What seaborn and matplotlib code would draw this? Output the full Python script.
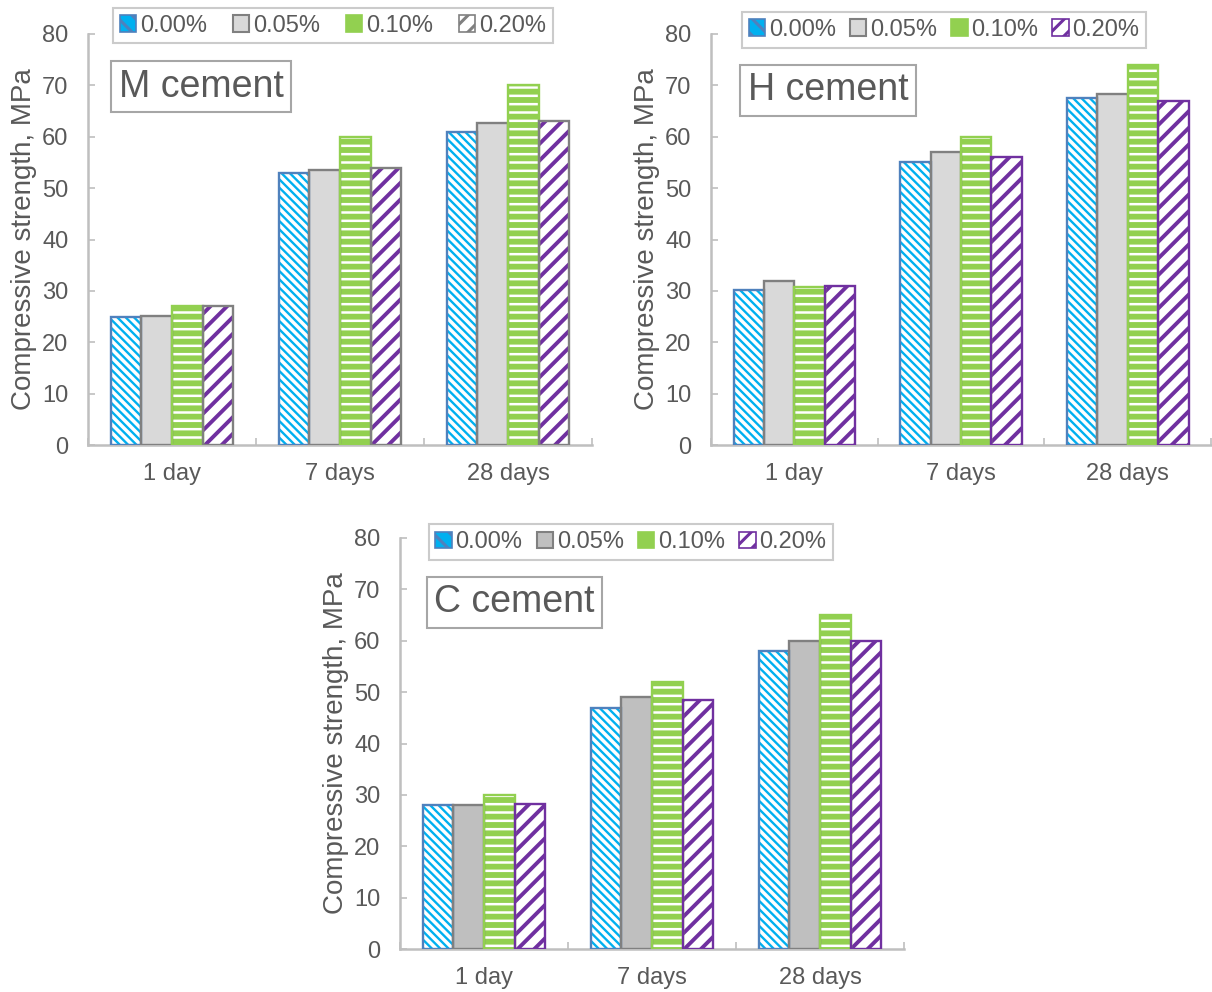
import numpy as np
import pandas as pd
import matplotlib
matplotlib.use("Agg")
import matplotlib.pyplot as plt
from matplotlib.patches import Patch, Rectangle
import seaborn as sns

# ---------------- data ----------------
ages = ["1 day", "7 days", "28 days"]
dosages = ["0.00%", "0.05%", "0.10%", "0.20%"]

m_cement = {"0.00%": [25.0, 53.0, 61.0],
            "0.05%": [25.2, 53.5, 62.7],
            "0.10%": [27.0, 60.0, 70.0],
            "0.20%": [27.0, 54.0, 63.0]}
h_cement = {"0.00%": [30.2, 55.0, 67.6],
            "0.05%": [32.0, 57.0, 68.4],
            "0.10%": [30.7, 60.0, 74.0],
            "0.20%": [31.0, 56.0, 67.0]}
c_cement = {"0.00%": [28.0, 47.0, 58.0],
            "0.05%": [28.0, 49.0, 60.0],
            "0.10%": [30.0, 52.0, 65.0],
            "0.20%": [28.3, 48.5, 60.0]}

titles = ["M cement", "H cement", "C cement"]
yticks = [0, 10, 20, 30, 40, 50, 60, 70, 80]

# ---------------- style ----------------
sns.set_theme(style="white")
plt.rcParams["font.family"] = ["Liberation Sans", "DejaVu Sans"]
plt.rcParams["hatch.linewidth"] = 2.2
TXT = "#595959"
AX = "#BFBFBF"

CYAN, BLUE_EDGE = "#00B0F0", "#4F81BD"
GREEN = "#92D050"
PURPLE = "#7030A0"

W, H = 1212, 992
fig = plt.figure(figsize=(W / 100, H / 100), dpi=100)


def frac(x0, y_top, y_bot, width):
    return [x0 / W, 1 - y_bot / H, width / W, (y_bot - y_top) / H]


axes_pos = [frac(88, 34, 445, 504), frac(711, 34, 445, 500), frac(400, 538, 949, 504)]
datas = [m_cement, h_cement, c_cement]
gray_face = ["#D9D9D9", "#D9D9D9", "#BFBFBF"]
purple_edge = ["#808080", PURPLE, PURPLE]
legend_pos = [(0.486, 1.02), (0.466, 1.01), (0.458, 0.99)]
legend_colsp = [1.1, 0.6, 0.6]
title_pos = [(0.0615, 0.915), (0.073, 0.9075), (0.0675, 0.888)]


for i, (pos, data) in enumerate(zip(axes_pos, datas)):
    ax = fig.add_axes(pos)
    rows = []
    for d in dosages:
        for a, v in zip(ages, data[d]):
            rows.append({"age": a, "dosage": d, "strength": v})
    df = pd.DataFrame(rows)
    sns.barplot(data=df, x="age", y="strength", hue="dosage", order=ages,
                hue_order=dosages, width=0.73, gap=0, legend=False, ax=ax,
                errorbar=None, saturation=1)

    # styles: (face, hatch, hatch colour, outline colour, hatch lw)
    styles = [
        ("white", "\\\\\\\\", CYAN, BLUE_EDGE, 1.7),
        (gray_face[i], "", gray_face[i], "#808080", 1.0),
        (GREEN, "--", "white", GREEN, 1.8),
        ("white", "//", PURPLE, purple_edge[i], 2.8),
    ]
    for cont, (face, hatch, hcol, ecol, hlw) in zip(ax.containers, styles):
        for p in cont.patches:
            # bar from seaborn becomes the outline
            p.set_facecolor("none")
            p.set_edgecolor(ecol)
            p.set_linewidth(1.7)
            p.set_zorder(3)
            with plt.rc_context({"hatch.linewidth": hlw}):
                r = Rectangle((p.get_x(), p.get_y()), p.get_width(), p.get_height(),
                              facecolor=face, edgecolor=hcol, hatch=hatch,
                              linewidth=0, zorder=2)
            if hasattr(r, "set_hatch_linewidth"):
                r.set_hatch_linewidth(hlw)
            ax.add_patch(r)

    ax.set_ylim(0, 80)
    ax.set_xlim(-0.5, 2.5)
    ax.set_yticks(yticks)
    ax.set_xticks(range(3))
    ax.set_xticklabels(ages)
    ax.set_xticks([-0.5, 0.5, 1.5, 2.5], minor=True)
    ax.tick_params(axis="y", which="major", direction="in", length=5, width=1.2,
                   color=AX, labelsize=17, labelcolor=TXT, pad=14, left=True)
    ax.tick_params(axis="x", which="major", length=0, labelsize=17, labelcolor=TXT, pad=13)
    ax.tick_params(axis="x", which="minor", direction="in", length=5, width=1.2,
                   color=AX, bottom=True)
    for s in ["top", "right"]:
        ax.spines[s].set_visible(False)
    for s in ["left", "bottom"]:
        ax.spines[s].set_color(AX)
        ax.spines[s].set_linewidth(1.8)
    ax.set_xlabel("")
    ax.set_ylabel("Compressive strength, MPa", fontsize=20, color=TXT, labelpad=4)
    ax.grid(False)

    handles = [
        Patch(facecolor=CYAN, hatch="\\\\", edgecolor=BLUE_EDGE, linewidth=1.2),
        Patch(facecolor=gray_face[i], edgecolor="#808080", linewidth=1.5),
        Patch(facecolor=GREEN, edgecolor=GREEN, linewidth=1.2),
        Patch(facecolor="white", edgecolor=purple_edge[i], hatch="//", linewidth=1.2),
    ]
    leg = ax.legend(handles, dosages, loc="center", bbox_to_anchor=legend_pos[i],
                    ncol=4, fontsize=17, frameon=True, fancybox=False,
                    handlelength=0.7, handleheight=0.7, handletextpad=0.15,
                    columnspacing=legend_colsp[i], borderpad=0.28, labelcolor=TXT)
    leg.get_frame().set_edgecolor(AX)
    leg.get_frame().set_linewidth(1.5)
    leg.set_zorder(5)

    tx, ty = title_pos[i]
    ax.text(tx, ty, titles[i], transform=ax.transAxes, ha="left", va="top",
            fontsize=27, color=TXT, zorder=6,
            bbox=dict(boxstyle="square,pad=0.2", facecolor="white",
                      edgecolor="#A6A6A6", linewidth=1.5))

fig.savefig("out.png", dpi=100)
